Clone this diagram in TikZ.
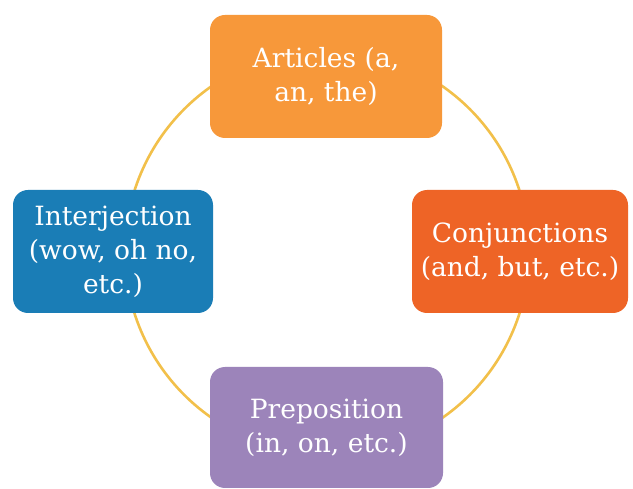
\documentclass[tikz,border=0pt]{standalone}
\usepackage{fontspec}
\setmainfont{DejaVu Serif}
\definecolor{ring}{HTML}{F2C04A}
\definecolor{artc}{HTML}{F7983A}
\definecolor{conjc}{HTML}{EE6426}
\definecolor{intc}{HTML}{1A7DB6}
\definecolor{prepc}{HTML}{9C84BA}
\begin{document}
\begin{tikzpicture}[x=1pt,y=-1pt,
  pbox/.style={rounded corners=15pt, draw=none, text=white, align=center,
    inner sep=0pt, font=\fontsize{26.5}{34}\selectfont},
  ringline/.style={draw=ring, line width=2.6pt}]
\useasboundingbox[fill=white] (0,0) rectangle (633,489);
\coordinate (c) at (327,252);
\draw[ringline] (c) circle (202pt);
\node[pbox, fill=artc, minimum width=232pt, minimum height=123pt] (art) at (326,76.5) {Articles (a,\\an, the)};
\node[pbox, fill=intc, minimum width=200pt, minimum height=123pt] (int) at (113,251.5) {Interjection\\(wow, oh no,\\etc.)};
\node[pbox, fill=conjc, minimum width=216pt, minimum height=123pt] (conj) at (520,251.5) {Conjunctions\\(and, but, etc.)};
\node[pbox, fill=prepc, minimum width=233pt, minimum height=121pt] (prep) at (326.5,427.5) {Preposition\\(in, on, etc.)};
\end{tikzpicture}
\end{document}
